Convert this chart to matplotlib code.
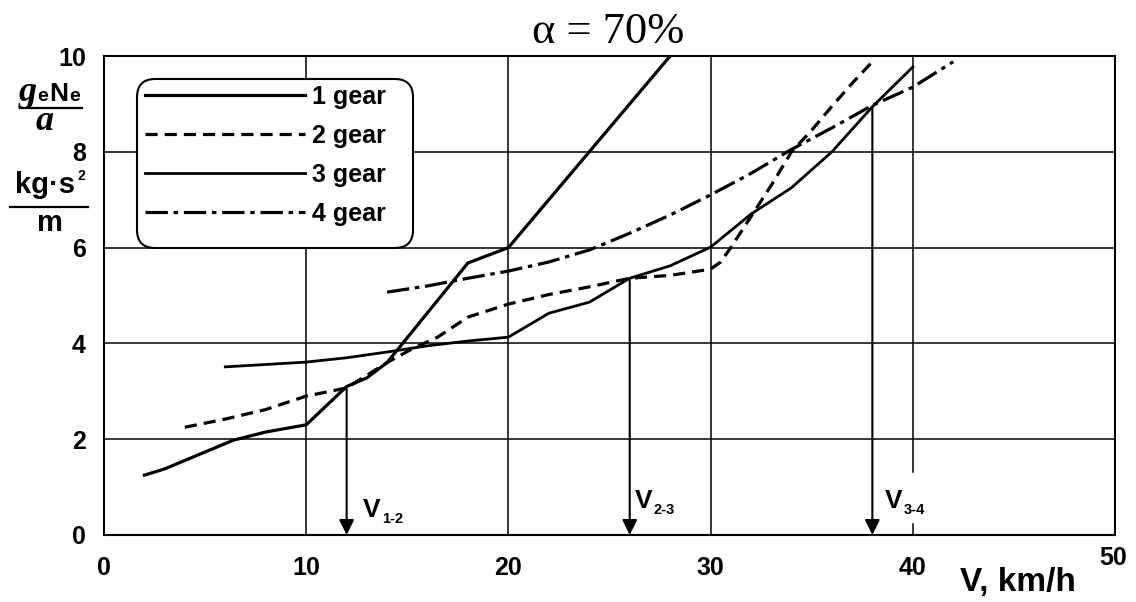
import matplotlib
matplotlib.use("Agg")
import matplotlib.pyplot as plt
from matplotlib import font_manager
from matplotlib.patches import FancyBboxPatch
from matplotlib.lines import Line2D

# ---------------- data ----------------
gear1_v = [2, 3, 6.4, 8, 10, 12, 13, 14, 18, 20, 28]
gear1_y = [1.25, 1.38, 1.98, 2.15, 2.3, 3.1, 3.28, 3.6, 5.68, 6.0, 10.0]

gear2_v = [4, 6, 8, 10, 12, 14, 15.3, 16.5, 18, 20, 22, 24, 26, 28, 30, 30.5, 31, 32, 33, 34, 35, 36, 37, 38]
gear2_y = [2.25, 2.42, 2.62, 2.9, 3.07, 3.6, 3.9, 4.13, 4.55, 4.82, 5.02, 5.18, 5.36, 5.42, 5.55, 5.7, 6.0, 6.65, 7.3, 8.0, 8.45, 8.95, 9.43, 9.88]

gear3_v = [6, 10, 12, 14, 16, 18, 20, 22, 24, 26, 28, 30, 32, 34, 36, 38, 40]
gear3_y = [3.51, 3.61, 3.7, 3.82, 3.95, 4.05, 4.13, 4.63, 4.86, 5.36, 5.62, 6.01, 6.7, 7.25, 8.0, 8.94, 9.77]

gear4_v = [14, 16, 18, 20, 22, 24, 26, 28, 30, 32, 34, 36, 38, 40, 42]
gear4_y = [5.07, 5.2, 5.36, 5.51, 5.7, 5.95, 6.3, 6.68, 7.1, 7.55, 8.05, 8.5, 8.97, 9.35, 9.88]

series_labels = ["1 gear", "2 gear", "3 gear", "4 gear"]

shift_v = [12, 26, 38]
shift_y = [3.1, 5.36, 8.94]
shift_sub = ["1-2", "2-3", "3-4"]

x_ticks = [0, 10, 20, 30, 40]
y_ticks = [0, 2, 4, 6, 8, 10]

# ---------------- fonts ----------------
names = {f.name for f in font_manager.fontManager.ttflist}
NARROW = "Liberation Sans Narrow" if "Liberation Sans Narrow" in names else "Liberation Sans"
SANS = "Liberation Sans"
SERIF = "Liberation Serif"

W, H = 1136, 602
fig = plt.figure(figsize=(W / 100, H / 100), dpi=100)
fig.patch.set_facecolor("white")


def P(px, py):
    return (px / W, 1 - py / H)


ax = fig.add_axes([104 / W, 1 - 535 / H, (1115 - 104) / W, (535 - 56) / H])
ax.set_xlim(0, 50)
ax.set_ylim(0, 10)

# grid
for gx in [10, 20, 30]:
    ax.axvline(gx, color="black", lw=1.1, zorder=1)
ax.plot([40, 40], [1.32, 10], color="black", lw=1.1, zorder=1)
ax.plot([40, 40], [0, 0.23], color="black", lw=1.1, zorder=1)
for gy in [2, 4, 6, 8]:
    ax.axhline(gy, color="black", lw=1.1, zorder=1)
for s in ax.spines.values():
    s.set_linewidth(1.5)

# curves
lw = 2.3
d2 = (3.8, 2.2)
d4 = (7, 1.8, 1.4, 1.8)
ax.plot(gear1_v, gear1_y, color="black", lw=lw, zorder=3)
ax.plot(gear2_v, gear2_y, color="black", lw=lw, dashes=d2, zorder=3)
ax.plot(gear3_v, gear3_y, color="black", lw=2.0, zorder=3)
ax.plot(gear4_v, gear4_y, color="black", lw=lw, dashes=d4, zorder=3)

# shift arrows
for v, y in zip(shift_v, shift_y):
    ax.annotate("", xy=(v, 0), xytext=(v, y),
                arrowprops=dict(arrowstyle="-|>,head_length=0.65,head_width=0.32",
                                lw=1.5, color="black", shrinkA=0, shrinkB=0,
                                mutation_scale=14), zorder=4)

label_pos = [(12.8, 0.38), (26.25, 0.56), (38.6, 0.56)]
for (lx, ly), sub in zip(label_pos, shift_sub):
    ax.text(lx, ly, "V", fontsize=19, fontweight="bold", family=NARROW,
            ha="left", va="baseline", zorder=5)
    ax.text(lx + 0.95, ly - 0.12, sub, fontsize=10.5, fontweight="bold", family=NARROW,
            ha="left", va="baseline", zorder=5)

# ticks
ax.set_xticks(x_ticks + [50])
ax.set_xticklabels([str(t) for t in x_ticks] + [""])
ax.set_yticks(y_ticks)
ax.set_yticklabels([str(t) for t in y_ticks])
ax.tick_params(axis="both", length=0)
ax.tick_params(axis="x", pad=15)
ax.tick_params(axis="y", pad=13)
for lab in ax.get_xticklabels() + ax.get_yticklabels():
    lab.set_fontsize(18)
    lab.set_fontweight("bold")
    lab.set_family(NARROW)

fig.text(*P(1113, 558), "50", fontsize=18, fontweight="bold", family=NARROW,
         ha="center", va="center")
fig.text(*P(1018, 583), "V, km/h", fontsize=24, fontweight="bold", family=NARROW,
         ha="center", va="center")

# title
fig.text(*P(608, 43), "α = 70%", fontsize=32, family=SERIF, ha="center", va="baseline")

# y-axis label (fractions)
fig.text(*P(19, 101), "g", fontsize=26, family=SERIF, style="italic", fontweight="bold",
         ha="left", va="baseline")
fig.text(*P(37, 101), "e", fontsize=14, family=SANS, fontweight="bold", ha="left", va="baseline")
fig.text(*P(49, 101), "N", fontsize=19, family=SANS, fontweight="bold", ha="left", va="baseline")
fig.text(*P(69, 101), "e", fontsize=14, family=SANS, fontweight="bold", ha="left", va="baseline")
fig.add_artist(Line2D([20 / W, 82 / W], [1 - 108 / H] * 2, color="black", lw=1.6,
                      transform=fig.transFigure))
fig.text(*P(45, 130), "a", fontsize=26, family=SERIF, style="italic", fontweight="bold",
         ha="center", va="baseline")

fig.text(*P(45, 193), "kg·s", fontsize=21, family=SANS, fontweight="bold", ha="center", va="baseline")
fig.text(*P(78, 180), "2", fontsize=10, family=SANS, fontweight="bold", ha="left", va="baseline")
fig.add_artist(Line2D([10 / W, 88 / W], [1 - 207 / H] * 2, color="black", lw=1.6,
                      transform=fig.transFigure))
fig.text(*P(50, 231), "m", fontsize=21, family=SANS, fontweight="bold", ha="center", va="baseline")

# legend box
x0 = (137 - 104) / 1011
x1 = (413 - 104) / 1011
y0 = (535 - 248) / 479
y1 = (535 - 79) / 479
box = FancyBboxPatch((x0, y0), x1 - x0, y1 - y0, transform=ax.transAxes,
                     boxstyle="round,pad=0,rounding_size=0.018",
                     facecolor="white", edgecolor="black", lw=1.5, zorder=6,
                     mutation_aspect=1011 / 479)
ax.add_patch(box)

handles = [
    Line2D([], [], color="black", lw=lw),
    Line2D([], [], color="black", lw=lw, dashes=d2),
    Line2D([], [], color="black", lw=2.0),
    Line2D([], [], color="black", lw=lw, dashes=d4),
]
leg = ax.legend(handles, series_labels, loc="upper left",
                bbox_to_anchor=((145 - 104) / 1011, (535 - 85) / 479),
                frameon=False, handlelength=6.4, handletextpad=0.28,
                labelspacing=0.6, borderpad=0, borderaxespad=0,
                prop=dict(family=SANS, weight="bold", size=18))
leg.set_zorder(7)

fig.savefig("out.png", dpi=100, facecolor="white")
